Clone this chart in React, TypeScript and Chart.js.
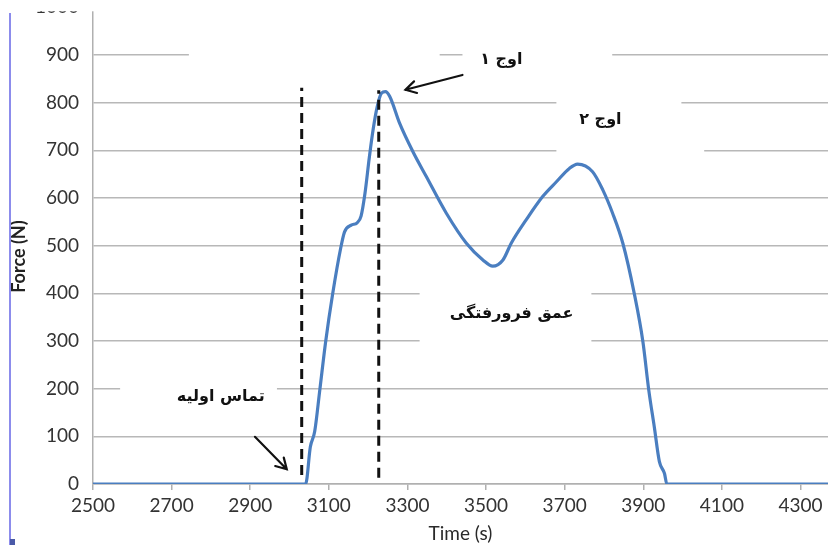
import React, { useEffect, useRef } from "react";
import { Chart, registerables } from "chart.js";

Chart.register(...registerables);

// ---- data ----
const timeValues = [2500, 3041, 3053, 3064, 3077, 3092, 3110, 3130, 3140, 3157, 3172, 3182, 3192, 3203, 3213, 3223, 3234, 3244, 3255, 3280, 3314, 3348, 3399, 3450, 3492, 3517, 3543, 3564, 3602, 3644, 3679, 3712, 3733, 3771, 3797, 3822, 3848, 3877, 3899, 3914, 3928, 3941, 3954, 3960, 4370];
const forceValues = [0, 0, 78, 110, 197, 299, 400, 494, 529, 543, 548, 562, 610, 685, 745, 791, 820, 823, 813, 757, 697, 645, 568, 505, 470, 457, 470, 505, 554, 603, 634, 662, 671, 655, 617, 568, 505, 400, 299, 197, 120, 47, 22, 0, 0];

const xTicks = [2500, 2700, 2900, 3100, 3300, 3500, 3700, 3900, 4100, 4300];
const yTicks = [0, 100, 200, 300, 400, 500, 600, 700, 800, 900, 1000];

// dashed markers: [x, yBottom, yTop]
const contactLine = [3031, 19, 831];
const peakLine = [3227, 13, 826];

// annotation labels: text, x, y
const labelTexts = ["اوج ۱", "اوج ۲", "عمق فرورفتگی", "تماس اولیه"];
const labelX = [3539, 3791, 3565, 2825];
const labelY = [889, 764, 357, 183];

// arrows: [xFrom, yFrom, xTo, yTo]
const arrowPeak = [3440, 858, 3295, 827];
const arrowContact = [2912, 99, 2993, 31];

// white label backgrounds: [x0, x1, y0, y1]
const labelBoxes = [
  [2744, 3382, 868, 931],
  [3440, 3821, 868, 931],
  [3679, 3997, 753, 837],
  [3679, 4055, 680, 753],
  [3331, 3768, 260, 449],
  [2569, 2968, 166, 239],
];

const annotationPlugin = {
  id: "annotations",
  beforeDatasetsDraw(chart: any) {
    const { ctx, scales } = chart;
    const xs = scales.x, ys = scales.y;
    ctx.save();
    ctx.fillStyle = "#ffffff";
    labelBoxes.forEach(([x0, x1, y0, y1]) => {
      const px0 = xs.getPixelForValue(x0), px1 = xs.getPixelForValue(x1);
      const py0 = ys.getPixelForValue(y1), py1 = ys.getPixelForValue(y0);
      ctx.fillRect(px0, py0, px1 - px0, py1 - py0);
    });
    ctx.restore();
  },
  afterDatasetsDraw(chart: any) {
    const { ctx, scales } = chart;
    const xs = scales.x, ys = scales.y;
    ctx.save();
    ctx.fillStyle = "#111111";
    ctx.font = 'bold 16px "DejaVu Sans", serif';
    ctx.textAlign = "center";
    ctx.textBaseline = "middle";
    (ctx as any).direction = "rtl";
    labelTexts.forEach((t, i) => {
      ctx.fillText(t, xs.getPixelForValue(labelX[i]), ys.getPixelForValue(labelY[i]));
    });
    (ctx as any).direction = "ltr";
    const drawArrow = (a: number[]) => {
      const x0 = xs.getPixelForValue(a[0]), y0 = ys.getPixelForValue(a[1]);
      const x1 = xs.getPixelForValue(a[2]), y1 = ys.getPixelForValue(a[3]);
      const ang = Math.atan2(y1 - y0, x1 - x0);
      const L = 12, spread = Math.PI / 6;
      ctx.strokeStyle = "#111111";
      ctx.lineWidth = 2.2;
      ctx.lineCap = "round";
      ctx.beginPath();
      ctx.moveTo(x0, y0);
      ctx.lineTo(x1, y1);
      ctx.moveTo(x1 - L * Math.cos(ang - spread), y1 - L * Math.sin(ang - spread));
      ctx.lineTo(x1, y1);
      ctx.lineTo(x1 - L * Math.cos(ang + spread), y1 - L * Math.sin(ang + spread));
      ctx.stroke();
    };
    drawArrow(arrowPeak);
    drawArrow(arrowContact);
    ctx.restore();
  },
  afterDraw(chart: any) {
    const { ctx, chartArea } = chart;
    ctx.save();
    ctx.fillStyle = "#ffffff";
    ctx.fillRect(0, 0, chart.width, chartArea.top + 4);
    ctx.restore();
  },
};

export default function App() {
  const canvasRef = useRef<HTMLCanvasElement | null>(null);

  useEffect(() => {
    if (!canvasRef.current) return;
    const points = timeValues.map((t, i) => ({ x: t, y: forceValues[i] }));
    const chart = new Chart(canvasRef.current, {
      type: "line",
      data: {
        datasets: [
          {
            data: [
              { x: contactLine[0], y: contactLine[1] },
              { x: contactLine[0], y: contactLine[2] },
            ],
            borderColor: "#111111",
            borderWidth: 3,
            borderDash: [10, 6],
            pointRadius: 0,
            order: 0,
          },
          {
            data: [
              { x: peakLine[0], y: peakLine[1] },
              { x: peakLine[0], y: peakLine[2] },
            ],
            borderColor: "#111111",
            borderWidth: 3,
            borderDash: [10, 6],
            pointRadius: 0,
            order: 0,
          },
          {
            data: points,
            borderColor: "#4a7ec0",
            borderWidth: 3.2,
            pointRadius: 0,
            cubicInterpolationMode: "monotone",
            order: 1,
          },
        ],
      },
      options: {
        animation: false,
        responsive: false,
        events: [],
        layout: { padding: { top: 7.3, left: 0, right: 0, bottom: 0 } },
        plugins: { legend: { display: false }, tooltip: { enabled: false } },
        scales: {
          x: {
            type: "linear",
            min: 2500,
            max: 4370,
            afterBuildTicks: (scale: any) => {
              scale.ticks = xTicks.map((v) => ({ value: v }));
            },
            afterFit: (scale: any) => {
              scale.height = 61;
              scale.paddingLeft = 0;
              scale.paddingRight = 0;
            },
            grid: {
              drawOnChartArea: false,
              drawTicks: true,
              tickLength: 6,
              color: "#b0b0b0",
              lineWidth: 1.5,
            },
            border: { color: "#b0b0b0", width: 1.5 },
            ticks: {
              color: "#333333",
              font: { family: "Lato", size: 19 },
              padding: 4,
              maxRotation: 0,
              autoSkip: false,
              callback: (v: any) => String(v),
            },
            title: {
              display: true,
              text: "Time (s)",
              color: "#2a2a2a",
              font: { family: "Lato", size: 19 },
              padding: 0,
            },
          },
          y: {
            min: 0,
            max: 1000,
            afterBuildTicks: (scale: any) => {
              scale.ticks = yTicks.map((v) => ({ value: v }));
            },
            afterFit: (scale: any) => {
              scale.width = 93;
              scale.paddingTop = 0;
              scale.paddingBottom = 0;
            },
            grid: {
              drawTicks: false,
              color: "#b8b8b8",
              lineWidth: 1.5,
            },
            border: { color: "#b0b0b0", width: 1.5 },
            ticks: {
              color: "#333333",
              font: { family: "Lato", size: 19 },
              padding: 14,
              callback: (v: any) => String(v),
            },
            title: {
              display: true,
              text: "Force (N)     ",
              color: "#222222",
              font: { family: "Lato", size: 18, weight: "bold" },
              padding: { top: 8, bottom: 8 },
            },
          },
        },
      },
      plugins: [annotationPlugin],
    } as any);
    return () => chart.destroy();
  }, []);

  return (
    <div style={{ position: "absolute", left: 0, top: 0, width: 828, height: 545, background: "#ffffff" }}>
      <canvas ref={canvasRef} width={828} height={545} style={{ width: 828, height: 545, display: "block" }} />
      <div style={{ position: "absolute", left: 9, top: 13, width: 2, height: 532, background: "#8c8cec" }} />
      <div style={{ position: "absolute", left: 10, top: 539, width: 5, height: 6, background: "#4a5aa8" }} />
    </div>
  );
}
